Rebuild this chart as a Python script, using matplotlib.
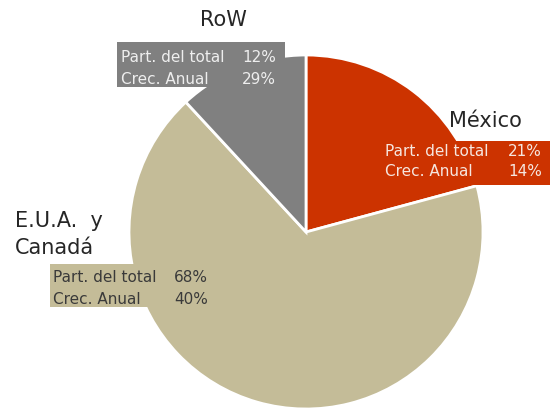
import matplotlib
matplotlib.use('Agg')
import matplotlib.pyplot as plt
from matplotlib.patches import Rectangle

# data
regiones = ['México', 'E.U.A.  y\nCanadá', 'RoW']
part_total = [21, 68, 12]
crec_anual = [14, 40, 29]
colores = ['#CC3300', '#C4BC98', '#808080']
texto_color = ['#F6E6DF', '#3A3A3A', '#EEEEEE']

H = 410  # alto en px, para pasar de coordenadas de imagen a datos

fig = plt.figure(figsize=(5.5, 4.1), dpi=100)
ax = fig.add_axes([0, 0, 1, 1])
ax.pie(part_total, colors=colores, startangle=90, counterclock=False,
       center=(306, H - 233), radius=177,
       wedgeprops=dict(edgecolor='white', linewidth=2))
ax.set_xlim(0, 550)
ax.set_ylim(0, H)
ax.set_aspect('equal')
ax.axis('off')

# posiciones de etiquetas (px de imagen): caja, texto izq, texto der, baselines
cajas = [(380, 142, 172, 44), (50, 265, 165, 43), (117, 43, 168, 45)]
txt_izq = [385, 53, 121]
txt_der = [542, 208, 276]
bases = [(156, 176), (282, 304), (62, 84)]
titulos = [(449, 127, 'left'), (15, 227, 'left'), (200, 26, 'left')]

fuente = 'DejaVu Sans'
for i, nombre in enumerate(regiones):
    x, y, w, h = cajas[i]
    ax.add_patch(Rectangle((x, H - y - h), w, h, facecolor=colores[i],
                           edgecolor='none', zorder=3))
    b1, b2 = bases[i]
    ax.text(txt_izq[i], H - b1, 'Part. del total', color=texto_color[i],
            fontsize=11, family=fuente, va='baseline', ha='left', zorder=4)
    ax.text(txt_izq[i], H - b2, 'Crec. Anual', color=texto_color[i],
            fontsize=11, family=fuente, va='baseline', ha='left', zorder=4)
    ax.text(txt_der[i], H - b1, f'{part_total[i]}%', color=texto_color[i],
            fontsize=11, family=fuente, va='baseline', ha='right', zorder=4)
    ax.text(txt_der[i], H - b2, f'{crec_anual[i]}%', color=texto_color[i],
            fontsize=11, family=fuente, va='baseline', ha='right', zorder=4)
    tx, ty, ha = titulos[i]
    lineas = nombre.split('\n')
    for k, linea in enumerate(lineas):
        ax.text(tx, H - ty - k * 27, linea, color='#262626', fontsize=15,
                family=fuente, va='baseline', ha=ha, zorder=4)

fig.savefig('out.png', dpi=100)
